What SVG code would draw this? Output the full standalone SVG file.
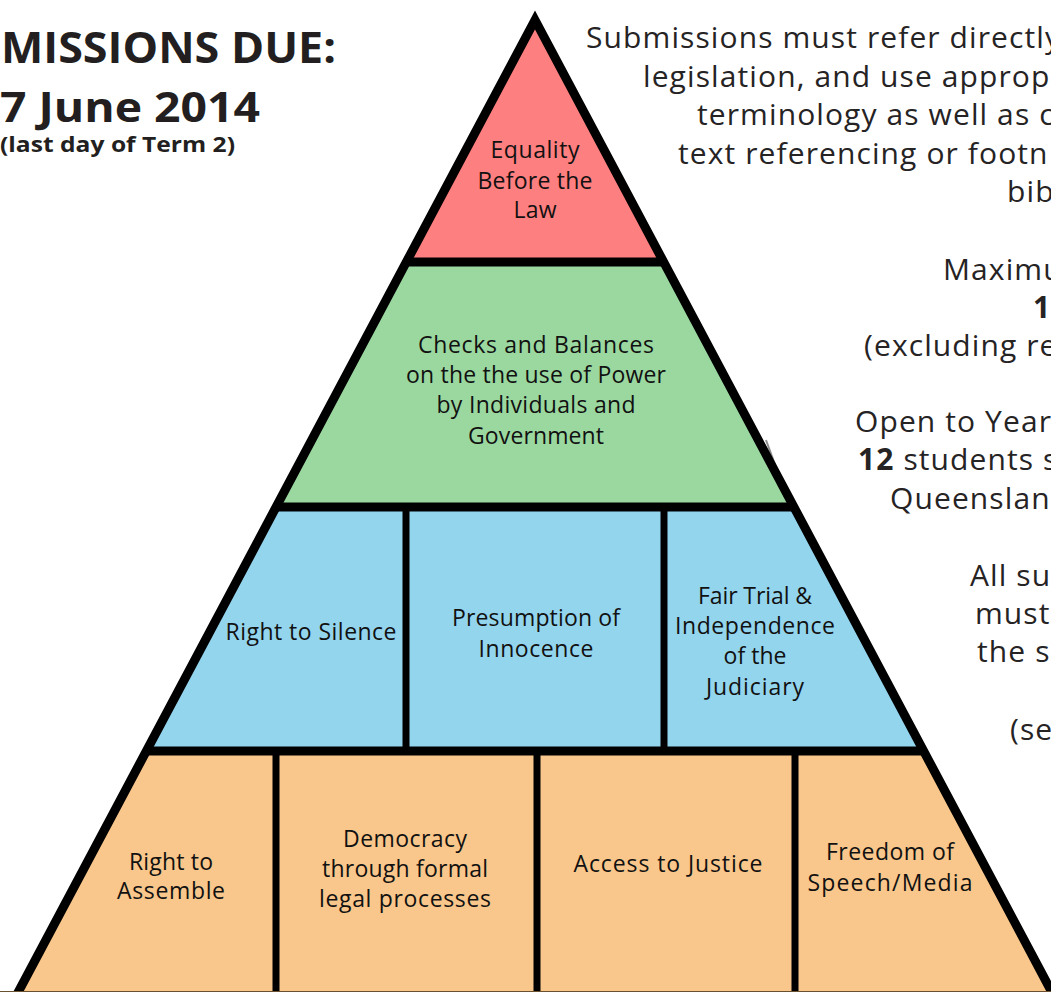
<svg xmlns="http://www.w3.org/2000/svg" width="1051" height="992" viewBox="0 0 1051 992">
<style>
.lbl{font-family:"Open Sans",Lato,"Liberation Sans",sans-serif;font-size:23px;font-weight:500;fill:#111;text-anchor:middle}
.side{font-family:"Open Sans",Lato,"Liberation Sans",sans-serif;font-size:30px;font-weight:500;fill:#262324;letter-spacing:1.1px}
.head{font-family:"Open Sans",Lato,"Liberation Sans",sans-serif;font-weight:bold;fill:#231f20}
.edge{fill:none;stroke:#000;stroke-width:9;stroke-linejoin:miter;stroke-miterlimit:10}
.hdiv{stroke:#000;stroke-width:9}
.vdiv{stroke:#000;stroke-width:7}
</style>
<rect width="1051" height="992" fill="#fff"/>
<g id="header">
<text class="head" x="1" y="63" font-size="43" textLength="335" lengthAdjust="spacingAndGlyphs">MISSIONS DUE:</text>
<text class="head" x="0" y="122" font-size="42" textLength="260" lengthAdjust="spacingAndGlyphs">7 June 2014</text>
<text class="head" x="0" y="152" font-size="21" textLength="235" lengthAdjust="spacingAndGlyphs">(last day of Term 2)</text>
</g>
<g id="notes" class="side">
<text x="586" y="48">Submissions must refer directly</text>
<text x="643" y="87">legislation, and use approp</text>
<text x="697" y="125">terminology as well as c</text>
<text x="678" y="164">text referencing or footn</text>
<text x="1007" y="202">bib</text>
<text x="943" y="280">Maximu</text>
<text x="1033" y="318" font-weight="bold">1</text>
<text x="864" y="356">(excluding re</text>
<text x="855" y="432">Open to Year</text>
<text x="858" y="470"><tspan font-weight="bold">12</tspan> students s</text>
<text x="890" y="509">Queenslan</text>
<text x="970" y="586">All su</text>
<text x="975" y="624">must</text>
<text x="977" y="662">the su</text>
<text x="1010" y="740">(se</text>
</g>
<g id="tier-top">
<polygon points="535,20 406,262 664,262" fill="#fe7f7f"/>
<text class="lbl" x="535" y="158" textLength="89">Equality</text>
<text class="lbl" x="535" y="189" textLength="115">Before the</text>
<text class="lbl" x="535" y="218" textLength="43">Law</text>
</g>
<g id="tier-2">
<polygon points="406,262 664,262 794,507 276,507" fill="#9bd8a0"/>
<line x1="766" y1="440" x2="789" y2="503" stroke="#8c8c8c" stroke-width="2"/>
<text class="lbl" x="536" y="353" textLength="236">Checks and Balances</text>
<text class="lbl" x="536" y="383" textLength="260">on the the use of Power</text>
<text class="lbl" x="536" y="413" textLength="199">by Individuals and</text>
<text class="lbl" x="536" y="444" textLength="136">Government</text>
</g>
<g id="tier-3">
<polygon points="276,507 794,507 924,751 146,751" fill="#94d5ee"/>
<text class="lbl" x="311" y="640" textLength="171">Right to Silence</text>
<text class="lbl" x="536" y="626" textLength="168">Presumption of</text>
<text class="lbl" x="536" y="657" textLength="115">Innocence</text>
<text class="lbl" x="755" y="604" textLength="114">Fair Trial &amp;</text>
<text class="lbl" x="755" y="634" textLength="160">Independence</text>
<text class="lbl" x="755" y="664" textLength="63">of the</text>
<text class="lbl" x="755" y="695" textLength="98">Judiciary</text>
</g>
<g id="tier-4">
<polygon points="146,751 924,751 1056,1000 14,1000" fill="#f9c78b"/>
<text class="lbl" x="171" y="870" textLength="84">Right to</text>
<text class="lbl" x="171" y="899" textLength="108">Assemble</text>
<text class="lbl" x="405" y="847" textLength="124">Democracy</text>
<text class="lbl" x="405" y="877" textLength="166">through formal</text>
<text class="lbl" x="405" y="907" textLength="172">legal processes</text>
<text class="lbl" x="668" y="872" textLength="189">Access to Justice</text>
<text class="lbl" x="890" y="860" textLength="128">Freedom of</text>
<text class="lbl" x="890" y="891" textLength="165">Speech/Media</text>
</g>
<g id="connectors">
<line class="hdiv" x1="404" y1="262" x2="666" y2="262"/>
<line class="hdiv" x1="274" y1="507" x2="796" y2="507"/>
<line class="hdiv" x1="144" y1="751" x2="926" y2="751"/>
<line class="vdiv" x1="406" y1="507" x2="406" y2="751"/>
<line class="vdiv" x1="664" y1="507" x2="664" y2="751"/>
<line class="vdiv" x1="276" y1="751" x2="276" y2="1000"/>
<line class="vdiv" x1="537" y1="751" x2="537" y2="1000"/>
<line class="vdiv" x1="795" y1="751" x2="795" y2="1000"/>
<polyline class="edge" points="14,1000 535,20 1056,1000"/>
<line x1="0" y1="991.5" x2="1051" y2="991.5" stroke="#6b5030" stroke-width="1"/>
</g>
</svg>
